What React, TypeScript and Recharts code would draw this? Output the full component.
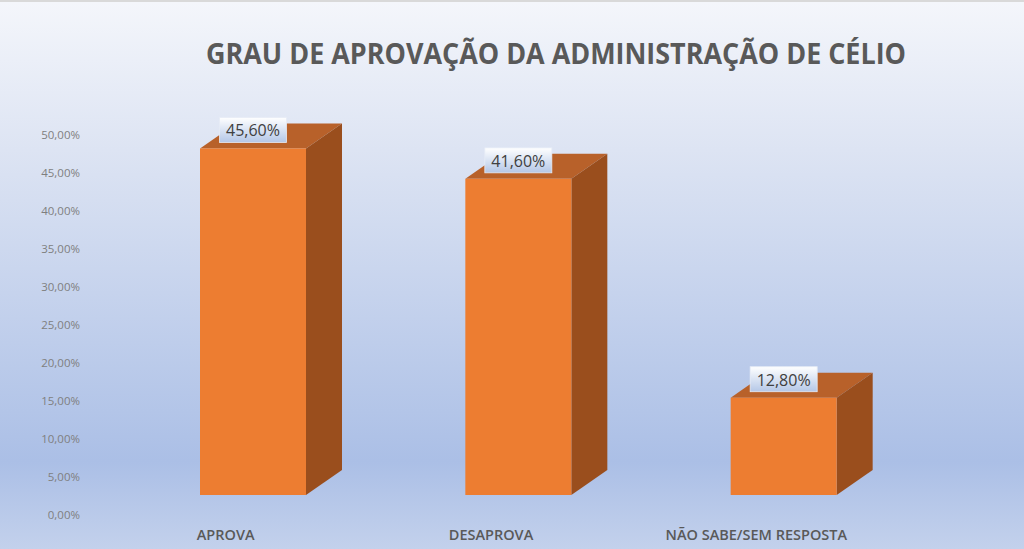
import React from 'react';
import { BarChart, Bar, XAxis, YAxis, LabelList } from 'recharts';

const categories = ['APROVA', 'DESAPROVA', 'NÃO SABE/SEM RESPOSTA'];
const values = [45.6, 41.6, 12.8];
const yTicks = [0, 5, 10, 15, 20, 25, 30, 35, 40, 45, 50];
const title = 'GRAU DE APROVAÇÃO DA ADMINISTRAÇÃO DE CÉLIO';

const data = categories.map((name, i) => ({ name, value: values[i] }));

const fmt = (v: number) => v.toFixed(2).replace('.', ',') + '%';

// 3D styling offsets
const SHIFT_X = 27;
const SHIFT_Y = -20;
const DEPTH_X = 36;
const DEPTH_Y = -25;
const FONT = '"Open Sans", "Liberation Sans", sans-serif';

const Bar3D = (props: any) => {
  const { x, y, width, height } = props;
  const fx = x + SHIFT_X;
  const fy = y + SHIFT_Y;
  const w = width;
  const h = height;
  return (
    <g>
      <polygon
        points={`${fx},${fy} ${fx + DEPTH_X},${fy + DEPTH_Y} ${fx + w + DEPTH_X},${fy + DEPTH_Y} ${fx + w},${fy}`}
        fill="#b8612a"
      />
      <polygon
        points={`${fx + w},${fy} ${fx + w + DEPTH_X},${fy + DEPTH_Y} ${fx + w + DEPTH_X},${fy + h + DEPTH_Y} ${fx + w},${fy + h}`}
        fill="#9a4e1d"
      />
      <rect x={fx} y={fy} width={w} height={h} fill="#ed7d31" />
    </g>
  );
};

const DataLabel = (props: any) => {
  const { x, y, width, value } = props;
  const cx = x + SHIFT_X + width / 2;
  const fy = y + SHIFT_Y;
  const bw = 67;
  const bh = 25;
  return (
    <g>
      <rect x={cx - bw / 2} y={fy - 6 - bh} width={bw} height={bh} fill="url(#lblGrad)" stroke="#e6ecf6" strokeWidth={0.8} />
      <text x={cx} y={fy - 12} textAnchor="middle" fontFamily={FONT} fontSize={16} fill="#404040">
        {fmt(value)}
      </text>
    </g>
  );
};

const YTick = (props: any) => {
  const { x, y, payload } = props;
  return (
    <text x={x} y={y + 4} textAnchor="end" fontFamily={FONT} fontSize={11.5} fill="#7f7f7f">
      {fmt(payload.value)}
    </text>
  );
};

const XTick = (props: any) => {
  const { x, y, payload } = props;
  return (
    <text x={x} y={y + 17} textAnchor="middle" fontFamily={FONT} fontSize={14.5} fontWeight={600} fill="#595959">
      {payload.value}
    </text>
  );
};

export default function App() {
  return (
    <div
      style={{
        position: 'absolute',
        left: 0,
        top: 0,
        width: 1024,
        height: 549,
        boxSizing: 'border-box',
        borderTop: '2px solid #d9d9d9',
        background: 'linear-gradient(to bottom, #f4f6fb 0%, #dde4f3 27%, #abbfe6 84%, #c3d1ec 100%)',
      }}
    >
      <BarChart
        width={1024}
        height={549}
        data={data}
        margin={{ top: 135, right: 135, bottom: 0, left: 0 }}
        style={{ position: 'absolute', left: 0, top: -2 }}
      >
        <defs>
          <linearGradient id="lblGrad" x1="0" y1="0" x2="0" y2="1">
            <stop offset="0%" stopColor="#ffffff" />
            <stop offset="100%" stopColor="#b4c7e7" />
          </linearGradient>
        </defs>
        <text
          x={556}
          y={64}
          textAnchor="middle"
          fontFamily={FONT}
          fontWeight={700}
          fontSize={28}
          fill="#595959"
          textLength={700}
          lengthAdjust="spacingAndGlyphs"
        >
          {title}
        </text>
        <XAxis dataKey="name" axisLine={false} tickLine={false} tick={<XTick />} interval={0} height={34} />
        <YAxis
          domain={[0, 50]}
          ticks={yTicks}
          axisLine={false}
          tickLine={false}
          tickMargin={7}
          width={93}
          tick={<YTick />}
          interval={0}
        />
        <Bar dataKey="value" barSize={106} shape={<Bar3D />} isAnimationActive={false}>
          <LabelList dataKey="value" content={<DataLabel />} />
        </Bar>
      </BarChart>
    </div>
  );
}
